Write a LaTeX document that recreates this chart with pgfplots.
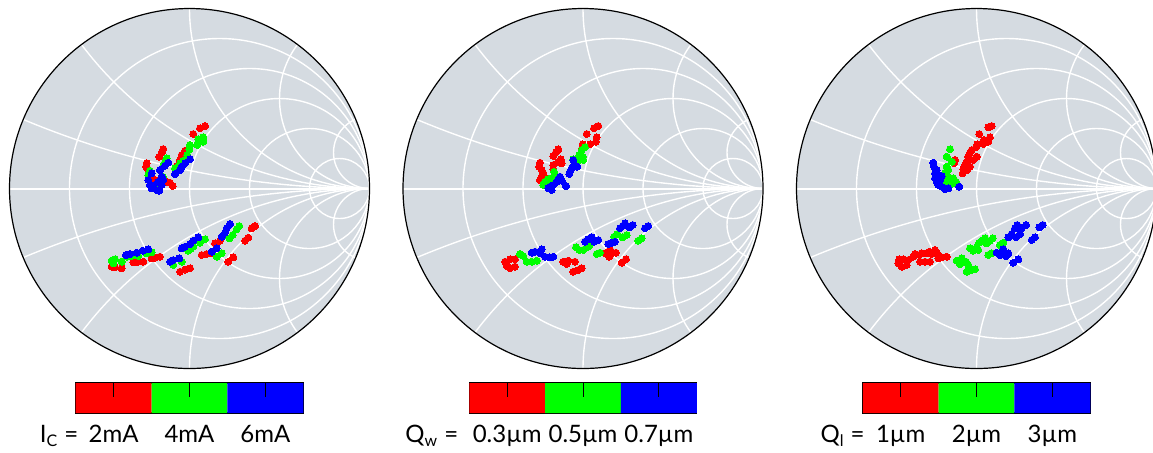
\documentclass[border=0pt]{standalone}
\usepackage{fontspec}
\setmainfont{Lato}
\usepackage{pgfplots}
\pgfplotsset{compat=1.18}
\definecolor{smithbg}{RGB}{213,219,225}
% Smith chart grid in pixel units, centre (#1,188.5), radius 180
\newcommand\smithgrid[1]{%
  \fill[smithbg] (axis cs:#1,188.5) circle[radius=180];
  \begin{scope}
    \clip (axis cs:#1,188.5) circle[radius=180];
    \draw[white,line width=0.7pt] (axis cs:{#1+30},188.5) circle[radius=150];
    \draw[white,line width=0.7pt] (axis cs:{#1+60},188.5) circle[radius=120];
    \draw[white,line width=0.7pt] (axis cs:{#1+90},188.5) circle[radius=90];
    \draw[white,line width=0.7pt] (axis cs:{#1+120},188.5) circle[radius=60];
    \draw[white,line width=0.7pt] (axis cs:{#1+150},188.5) circle[radius=30];
    \draw[white,line width=0.7pt] (axis cs:{#1+180},{188.5-900}) circle[radius=900];
    \draw[white,line width=0.7pt] (axis cs:{#1+180},{188.5+900}) circle[radius=900];
    \draw[white,line width=0.7pt] (axis cs:{#1+180},{188.5-360}) circle[radius=360];
    \draw[white,line width=0.7pt] (axis cs:{#1+180},{188.5+360}) circle[radius=360];
    \draw[white,line width=0.7pt] (axis cs:{#1+180},{188.5-180}) circle[radius=180];
    \draw[white,line width=0.7pt] (axis cs:{#1+180},{188.5+180}) circle[radius=180];
    \draw[white,line width=0.7pt] (axis cs:{#1+180},{188.5-90}) circle[radius=90];
    \draw[white,line width=0.7pt] (axis cs:{#1+180},{188.5+90}) circle[radius=90];
    \draw[white,line width=0.7pt] (axis cs:{#1+180},{188.5-36}) circle[radius=36];
    \draw[white,line width=0.7pt] (axis cs:{#1+180},{188.5+36}) circle[radius=36];
    \draw[white,line width=1pt] (axis cs:{#1-180},188.5) -- (axis cs:{#1+180},188.5);
  \end{scope}
  \draw[black,line width=0.6pt] (axis cs:#1,188.5) circle[radius=180];
}
\pgfplotsset{
  smithax/.style={hide axis, clip=false, x=0.5pt, y=0.5pt, y dir=reverse,
    ymin=6, ymax=371, anchor=north west},
  pts/.style={only marks, mark=*, mark size=1.75pt, color=#1, mark options={draw=#1, fill=#1, line width=0pt}},
  cbar/.style={anchor=north west, x=37.92pt, y=15pt, xmin=0, xmax=3, ymin=0, ymax=1,
    xtick={0.5,1.5,2.5}, ytick=\empty, major tick length=0pt, clip=false,
    axis line style={line width=0.6pt},
    xticklabel style={anchor=base, yshift=-14.75pt, font=\fontsize{12}{14}\selectfont}},
}
\newcommand\cbarfill{%
  \addplot[fill=red, draw=none] coordinates {(0,0) (0,1) (1,1) (1,0)} \closedcycle;
  \addplot[fill=green, draw=none] coordinates {(1,0) (1,1) (2,1) (2,0)} \closedcycle;
  \addplot[fill=blue, draw=none] coordinates {(2,0) (2,1) (3,1) (3,0)} \closedcycle;
  \addplot[black, line width=0.5pt] coordinates {(0.5,1) (0.5,0.53)};
  \addplot[black, line width=0.5pt] coordinates {(1.5,1) (1.5,0.53)};
  \addplot[black, line width=0.5pt] coordinates {(2.5,1) (2.5,0.53)};
}
\begin{document}
\begin{tikzpicture}
\useasboundingbox (0,0) rectangle (576.5pt,-226pt);
% ---------------- chart 1 : I_C
\begin{axis}[smithax, xmin=7.5, xmax=371.5, at={(3.75pt,-3pt)}]
\smithgrid{189.5}
\addplot[pts=red] coordinates {
(205,126)(200,128.3)(193.3,134)(185,150.7)(181.7,155)(180,160)(176.7,166)(163.3,149)
(161.7,152.7)(159.3,156.7)(146.7,163.3)(146,166.7)(147.3,168.3)(155,180)(166.7,181.7)
(170,182.7)(172.7,186)(153.3,180)
(255,226)(251.7,228.3)(248.3,237.7)(245,240.7)(233.3,257.3)(228.3,261.7)(220,240.7)
(215,243.3)(211.7,253.3)(201.7,255)(190,268.3)(180,271.7)(185,269.5)(160,256.7)(155,257.5)
(151.7,258.3)(143.3,261.7)(136.7,262.3)(133.3,262.3)(121.7,268.3)(115,267.3)(111.7,266.7)
(206.5,254)};
\addplot[pts=green] coordinates {
(203.3,137.3)(203.3,141.7)(198.3,139.3)(197.3,145)(190,145)(189.3,149.3)(187.3,155)
(180,163.3)(175,168.3)(166.7,158.3)(165,162.3)(163.3,166)(160,170)(150,170.7)(148.3,175)
(160,186.7)(163.3,180)(162.7,176.7)(183,161)
(239.3,226)(236.7,229.3)(232.7,235)(229.3,238.3)(221.7,253.3)(216.7,256.7)(205,239.3)
(200,242.7)(193.3,246.7)(188.3,250.7)(181.7,261.7)(173.3,265)(151.7,252.3)(146.7,253.3)
(138.3,256)(131.7,256)(126.7,256.7)(121.7,261.7)(115,259.3)(111.7,260.7)(113.3,263.3)
(191,248.7)};
\addplot[pts=blue] coordinates {
(190,159.3)(185,163.3)(181.7,166.7)(180,170)(175,174)(168.3,162.7)(165,165.7)(160,170)
(151.7,173.3)(148.3,180)(150,185)(151.7,188.3)(156.7,190)(159.3,190.7)(161.7,185)
(163.3,180)(161.7,176.7)(158.3,181.7)(153,186)
(230,224)(226.7,228.3)(225,232.7)(221.7,236.7)(216.7,248.3)(211.7,251.7)(198.3,237.3)
(193.3,240.7)(190,244)(185,246.7)(181.7,248.3)(179.3,258.3)(173.3,260)(170,261.7)
(148.3,249.3)(142.7,250.7)(136.7,252.7)(130,254)(126,255)};
\end{axis}
% ---------------- chart 2 : Q_w
\begin{axis}[smithax, xmin=401, xmax=765, at={(200.5pt,-3pt)}]
\smithgrid{583}
\addplot[pts=red] coordinates {
(598.3,126)(594,128.3)(586.7,134)(596.7,137.3)(596,141.7)(590,144.3)(582.7,144.3)
(581.7,149.3)(558.3,149.3)(556,152.3)(553.3,156)(560.7,159.3)(558.3,161.7)(561.7,163.3)
(553.3,165)(553.3,169.3)(540,162.7)(539.3,166.7)(541.7,170)(543.3,173.3)(541.7,176.7)
(540,180)(545,178.3)
(510,259.3)(505,261.7)(506.7,266)(515,259.3)(515,266.7)(510,268.3)(563.3,261.7)
(566.7,264)(568.3,260.7)(575,261.7)(573.3,271.7)(578.3,270)(581.7,268.3)(605,253.3)
(610,249.3)(611.7,253.3)(616,252.7)(609.3,256.7)(621.7,262.7)(626,259.3)};
\addplot[pts=green] coordinates {
(585,147.3)(581.7,150)(579.3,155)(582.7,156.7)(583.3,160)(577.3,161.7)(573.3,159.3)
(575,163.3)(554,171.7)(555,175)(551.7,178.3)(548.3,179.3)(545,181.7)(543.3,185)(546.7,185)
(520,254)(523.3,256)(526.7,261.7)(531.7,261.7)(536.7,260.7)(576,247.3)(579.3,250)
(583.3,250)(586.7,247.3)(589.3,246)(596.7,254)(600,252.7)(614,236.7)(617.3,234)
(622.7,237.3)(626.7,235)(638.3,240.7)(641.7,238.3)};
\addplot[pts=blue] coordinates {
(573.3,160)(574,165)(577.3,166.7)(571.7,168.3)(570,171.7)(569.3,174)(560,176.7)
(558.3,180)(556.7,181.7)(561.7,180.7)(553.3,185)(550,186.7)(551.7,190)(548.3,188.3)(566,186)
(531.7,252.7)(535,251.7)(540,253.3)(541.7,249.3)(545,256.7)(549.3,257.3)(553.3,256.7)
(585,241.7)(588.3,239.3)(591.7,237.3)(594,241.7)(598.3,240)(608.3,244)(611.7,242.7)
(615,241.7)(620,228.3)(622.7,226)(625,223.3)(629.3,227.3)(632.7,225)(645,228.3)(648.3,226)};
\end{axis}
% ---------------- chart 3 : Q_l
\begin{axis}[smithax, xmin=794.5, xmax=1158.5, at={(397.25pt,-3pt)}]
\smithgrid{976.5}
\addplot[pts=red] coordinates {
(991.7,126)(988.3,127.3)(979.3,134)(990,137.3)(988.3,141.7)(984,140)(983.3,144)
(977.3,144.3)(976,147.3)(971.7,150)(970,152.7)(976.7,156.7)(973.3,160)(968.3,156.7)
(966.7,161.7)(965,165)(963.3,169.3)(962.7,173.3)(970,166.7)(967.3,170)(955,160)(954,163.3)
(899.3,259.3)(898.3,263.3)(901.7,266.7)(906.7,265)(908.3,260)(913.3,256.7)(915,254)
(919.3,255)(921.7,253.3)(926.7,253.3)(929.3,251.7)(931.7,254)(935,250)(936.7,252.7)
(920,261.7)(925,261.7)(930,261.7)(938.3,258.3)(941.7,257.3)(946.7,256.7)(903.3,259.3)};
\addplot[pts=green] coordinates {
(950,149.3)(946.7,156.7)(951.7,161.7)(946.7,166.7)(948.3,170)(945,172.7)(948.3,176.7)
(950,180)(953.3,178.3)(956,181.7)(945,181.7)(946.7,185)(951.7,184)
(956.7,260.7)(960,264)(961.7,258.3)(966,261.7)(968.3,265)(966.7,271.7)(971.7,270)
(975,269.3)(970,248.3)(973.3,250.7)(976.7,247.3)(979.3,242.7)(981.7,240.7)(985,238.3)
(986.7,243.3)(990,240.7)(992.7,238.3)(978.3,250)(988.3,255)(991.7,253.3)(1000,245)
(1003.3,242.7)};
\addplot[pts=blue] coordinates {
(933.3,162.7)(934,166.7)(936.7,170)(935,173.3)(938.3,175)(935,178.3)(936.7,181.7)
(938.3,185)(941.7,186.7)(945,189.3)(948.3,188.3)(940,180)(959.3,186.7)(941.7,176)
(996.7,252.7)(1000,255)(1003.3,249.3)(1006,256)(1008.3,253.3)(1008.3,237.3)(1011.7,234)
(1015,228.3)(1017.3,225)(1016,237.3)(1020,234)(1021.7,228.3)(1026,225)(1013.3,262.7)
(1018.3,259.3)(1031.7,240)(1035,237.3)(1039.3,227.3)(1042.7,225)};
\end{axis}
% ---------------- colour bars
\begin{axis}[cbar, at={(37.875pt,-191.5pt)}, xticklabels={2mA,4mA,6mA}]
\cbarfill
\node[anchor=base east, inner sep=0pt, font=\fontsize{12}{14}\selectfont] at (axis cs:0.04,-0.983) {I\textsubscript{C} =};
\end{axis}
\begin{axis}[cbar, at={(234.625pt,-191.5pt)}, xticklabels={0.3µm,0.5µm,0.7µm}]
\cbarfill
\node[anchor=base east, inner sep=0pt, font=\fontsize{12}{14}\selectfont] at (axis cs:-0.14,-0.983) {Q\textsubscript{w} =};
\end{axis}
\begin{axis}[cbar, at={(431.375pt,-191.5pt)}, xticklabels={1µm,2µm,3µm}]
\cbarfill
\node[anchor=base east, inner sep=0pt, font=\fontsize{12}{14}\selectfont] at (axis cs:0.03,-0.983) {Q\textsubscript{l} =};
\end{axis}
\end{tikzpicture}
\end{document}
